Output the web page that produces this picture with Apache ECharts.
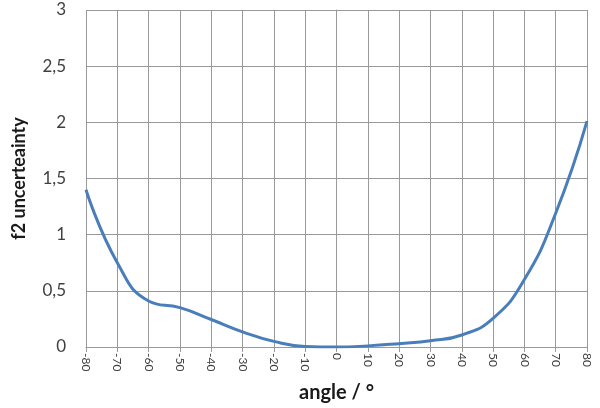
<!DOCTYPE html>
<html>
<head>
<meta charset="utf-8">
<script src="https://cdn.jsdelivr.net/npm/echarts@6/dist/echarts.min.js"></script>
<style>html,body{margin:0;padding:0;background:#fff}#c{width:600px;height:408px}</style>
</head>
<body>
<div id="c"></div>
<script>
var angles = [-80,-70,-60,-50,-40,-30,-20,-10,0,10,20,30,40,50,60,70,80];
var uncertainty = [1.40,0.75,0.41,0.35,0.245,0.135,0.05,0.005,0,0.01,0.03,0.055,0.107,0.255,0.6,1.19,2.01];
var xTicks = {min:-80, max:80, interval:10};
var yTicks = {min:0, max:3, interval:0.5};

var data = angles.map(function(a,i){return [a, uncertainty[i]];});
var font = 'Lato, "Open Sans", sans-serif';
var chart = echarts.init(document.getElementById('c'), null, {renderer:'canvas'});
chart.setOption({
  animation:false,
  grid:{left:86, right:13, top:10, bottom:61},
  xAxis:{
    type:'value', min:xTicks.min, max:xTicks.max, interval:xTicks.interval,
    name:'angle / °', nameLocation:'middle', nameGap:36,
    nameTextStyle:{fontFamily:font, fontWeight:'bold', fontSize:20, color:'#1a1a1a'},
    axisLine:{show:true, lineStyle:{color:'#999', width:1}},
    axisTick:{show:true, length:5, lineStyle:{color:'#999'}},
    axisLabel:{rotate:-90, fontFamily:font, fontSize:12, color:'#404040', margin:6},
    splitLine:{show:true, lineStyle:{color:'#999', width:1}}
  },
  yAxis:{
    type:'value', min:yTicks.min, max:yTicks.max, interval:yTicks.interval,
    name:'f2 uncerteainty', nameLocation:'middle', nameGap:58,
    nameTextStyle:{fontFamily:font, fontWeight:'bold', fontSize:18, color:'#1a1a1a'},
    axisLine:{show:true, lineStyle:{color:'#999', width:1}},
    axisTick:{show:false},
    axisLabel:{fontFamily:font, fontSize:17, color:'#404040', margin:20,
      formatter:function(v){return String(v).replace('.', ',');}},
    splitLine:{show:true, lineStyle:{color:'#999', width:1}}
  },
  series:[{
    type:'line', data:data, smooth:0.5,
    showSymbol:false, symbol:'none',
    lineStyle:{color:'#4a7ebb', width:3}
  }]
});
</script>
</body>
</html>
